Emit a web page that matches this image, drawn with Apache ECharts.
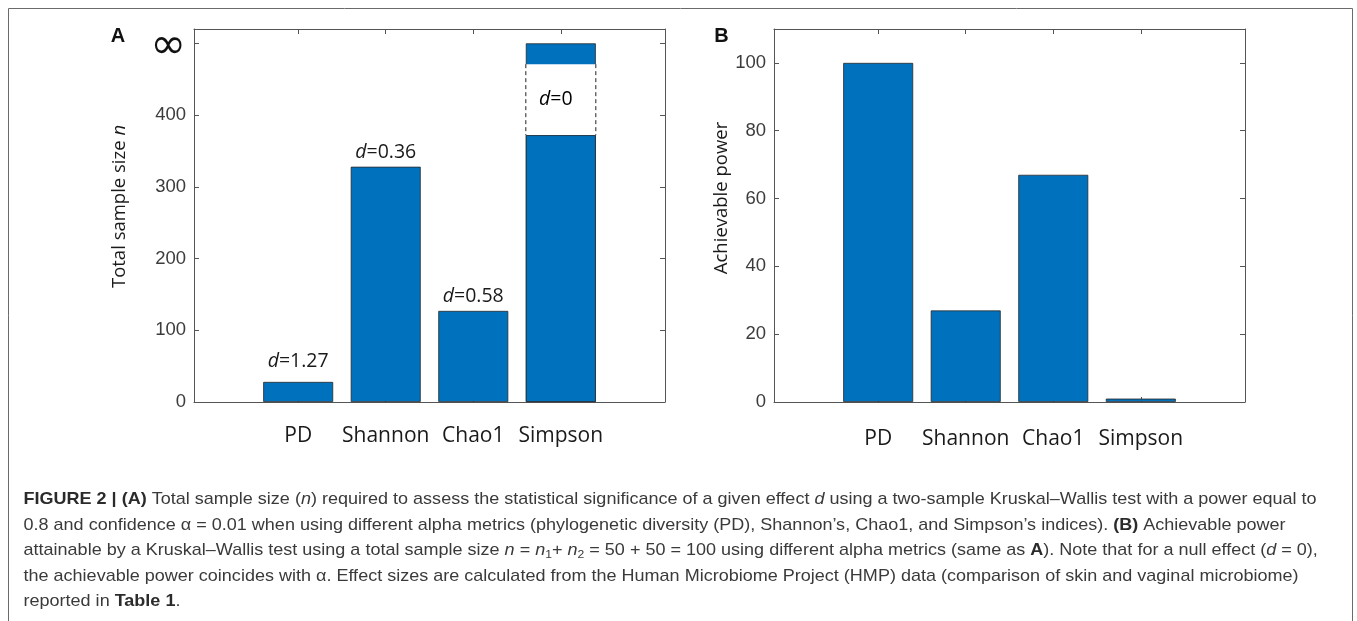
<!DOCTYPE html>
<html>
<head>
<meta charset="utf-8">
<title>Figure 2 – sample size and achievable power</title>
<script src="https://cdn.jsdelivr.net/npm/echarts@6/dist/echarts.min.js"></script>
<style>
  html, body { margin: 0; padding: 0; background: #fff; }
  #chart { width: 1357px; height: 621px; }
</style>
</head>
<body>
<div id="chart"></div>
<script>
// Alpha-diversity metrics compared in both panels
const categories = ['PD', 'Shannon', 'Chao1', 'Simpson'];
// Effect size d of each metric (skin vs vaginal microbiome)
const effectSize = [1.27, 0.36, 0.58, 0];
// Panel A: total sample size n needed (Simpson: n = infinity, d = 0)
const sampleSize = [28, 328, 127, Infinity];
// Where the infinite Simpson bar is broken, and the level shown as ∞
const simpsonBreak = [372, 471];
const infinityLevel = 500;
// Panel A tick values (the top one is printed as ∞)
const sampleTicks = [0, 100, 200, 300, 400, 500];
// Panel B: achievable power (%) with n = 50 + 50
const achievablePower = [100, 27, 67, 1];
const powerTicks = [0, 20, 40, 60, 80, 100];

const BLUE = '#0071bd';
const AXIS = '#555555';
const BAR_W = 70;
const TICK_FONT = 'Liberation Sans, Arial, sans-serif';
const CAL_FONT = 'Open Sans, Lato, sans-serif';
const catPos = categories.map((c, i) => i + 1);

const chart = echarts.init(document.getElementById('chart'), null, { renderer: 'canvas' });

function xAxisFor(gridIndex, position, showLabels, labelMargin) {
  return {
    type: 'value', gridIndex, position,
    min: -0.19, max: 5.19,
    axisLine: { show: true, onZero: false, lineStyle: { color: AXIS, width: 1 } },
    axisTick: { show: true, inside: true, length: 5, customValues: catPos, lineStyle: { color: AXIS } },
    axisLabel: {
      show: showLabels, customValues: catPos, margin: labelMargin,
      formatter: v => categories[Math.round(v) - 1] || '',
      fontFamily: CAL_FONT, fontSize: 21, color: '#1a1a1a'
    },
    splitLine: { show: false }
  };
}

function yAxisFor(gridIndex, position, showLabels, max, ticks, extra) {
  return Object.assign({
    type: 'value', gridIndex, position, min: 0, max,
    axisLine: { show: true, onZero: false, lineStyle: { color: AXIS, width: 1 } },
    axisTick: { show: true, inside: true, length: 5, customValues: ticks, lineStyle: { color: AXIS } },
    axisLabel: {
      show: showLabels, customValues: ticks, margin: 8,
      fontFamily: TICK_FONT, fontSize: 18.5, color: '#3c3c3c'
    },
    splitLine: { show: false }
  }, extra || {});
}

const dLabelRich = {
  i: { fontFamily: CAL_FONT, fontStyle: 'italic', fontSize: 19.5, color: '#1a1a1a' },
  t: { fontFamily: CAL_FONT, fontSize: 19.5, color: '#1a1a1a' }
};
const dText = idx => '{i|d}{t|=' + effectSize[idx] + '}';

// Panel A bars: finite n drawn in full; Simpson's bar runs up to ∞ with a break
const baseData = categories.map((c, i) => ({
  value: [i + 1, isFinite(sampleSize[i]) ? sampleSize[i] : simpsonBreak[0]],
  label: { show: isFinite(sampleSize[i]), distance: i === 0 ? 10 : 4 }
}));
const capData = categories.map((c, i) => [i + 1, isFinite(sampleSize[i]) ? null : infinityLevel]);
const breakData = categories
  .map((c, i) => [i + 1, simpsonBreak[0], simpsonBreak[1], i])
  .filter(d => !isFinite(sampleSize[d[3]]));
const powerData = categories.map((c, i) => [i + 1, achievablePower[i]]);

const barStyle = { color: BLUE, borderColor: '#2a2a2a', borderWidth: 0.8 };

// White break in the infinite bar, with dashed sides and its d label
function renderBreak(params, api) {
  const x = api.value(0);
  const lo = api.coord([x, api.value(1)]);
  const hi = api.coord([x, api.value(2)]);
  const left = lo[0] - BAR_W / 2;
  const right = lo[0] + BAR_W / 2;
  const dash = { stroke: '#222', lineWidth: 1, lineDash: [4, 3] };
  return {
    type: 'group',
    children: [
      { type: 'rect', shape: { x: left - 1.5, y: hi[1], width: BAR_W + 3, height: lo[1] - hi[1] },
        style: { fill: '#ffffff' } },
      { type: 'line', shape: { x1: left, y1: hi[1], x2: left, y2: lo[1] }, style: dash },
      { type: 'line', shape: { x1: right, y1: hi[1], x2: right, y2: lo[1] }, style: dash },
      { type: 'text', x: lo[0] - 5, y: (lo[1] + hi[1]) / 2,
        style: { text: dText(api.value(3)), rich: dLabelRich, align: 'center', verticalAlign: 'middle' } }
    ]
  };
}

// Caption lines
const capFont = 'Liberation Sans, Arial, sans-serif';
const capSize = 17;
const capRich = {
  b: { fontFamily: capFont, fontSize: capSize, fontWeight: 'bold', fill: '#2b2b2b' },
  i: { fontFamily: capFont, fontSize: capSize, fontStyle: 'italic', fill: '#3a3a3a' },
  s: { fontFamily: capFont, fontSize: 11.5, fill: '#3a3a3a', lineHeight: 12, verticalAlign: 'bottom' }
};
const captionLines = [
  '{b|FIGURE 2 | (A)} Total sample size ({i|n}) required to assess the statistical significance of a given effect {i|d} using a two-sample Kruskal–Wallis test with a power equal to',
  '0.8 and confidence α = 0.01 when using different alpha metrics (phylogenetic diversity (PD), Shannon’s, Chao1, and Simpson’s indices). {b|(B)} Achievable power',
  'attainable by a Kruskal–Wallis test using a total sample size {i|n} = {i|n}{s|1}+ {i|n}{s|2} = 50 + 50 = 100 using different alpha metrics (same as {b|A}). Note that for a null effect ({i|d} = 0),',
  'the achievable power coincides with α. Effect sizes are calculated from the Human Microbiome Project (HMP) data (comparison of skin and vaginal microbiome)',
  'reported in {b|Table 1}.'
];
const captionY = [499, 525, 550.5, 576, 601.5];

const graphics = [
  { type: 'rect', shape: { x: 8.5, y: 8.5, width: 1344, height: 700 },
    style: { fill: 'none', stroke: '#6a6a6a', lineWidth: 1 }, silent: true },
  { type: 'text', x: 118, y: 36, style: { text: 'A', font: 'bold 20px Liberation Sans, Arial, sans-serif', fill: '#111', align: 'center', verticalAlign: 'middle' } },
  { type: 'text', x: 721.5, y: 36, style: { text: 'B', font: 'bold 20px Liberation Sans, Arial, sans-serif', fill: '#111', align: 'center', verticalAlign: 'middle' } }
].concat(captionLines.map((t, k) => ({
  type: 'text', x: 25, y: captionY[k], scaleX: 1.06, originX: 25, originY: captionY[k],
  style: { text: t, rich: capRich, fontFamily: capFont, fontSize: capSize, fill: '#3a3a3a', verticalAlign: 'middle', align: 'left', lineHeight: 20 }
})));

const option = {
  animation: false,
  backgroundColor: '#ffffff',
  grid: [
    { left: 194, top: 29, width: 471, height: 373 },
    { left: 774, top: 29, width: 471, height: 373 }
  ],
  xAxis: [
    xAxisFor(0, 'bottom', true, 24),
    xAxisFor(0, 'top', false, 8),
    xAxisFor(1, 'bottom', true, 27),
    xAxisFor(1, 'top', false, 8)
  ],
  yAxis: [
    yAxisFor(0, 'left', true, 520, sampleTicks, {
      name: 'Total sample size {i|n}', nameLocation: 'middle', nameGap: 65,
      nameTextStyle: {
        fontFamily: CAL_FONT, fontSize: 18.5, color: '#1a1a1a', padding: [0, 0, 0, 18],
        rich: { i: { fontFamily: CAL_FONT, fontSize: 18.5, fontStyle: 'italic', color: '#1a1a1a' } }
      }
    }),
    yAxisFor(0, 'right', false, 520, sampleTicks),
    yAxisFor(1, 'left', true, 110, powerTicks, {
      name: 'Achievable power', nameLocation: 'middle', nameGap: 42,
      nameTextStyle: { fontFamily: CAL_FONT, fontSize: 18.5, color: '#1a1a1a', padding: [0, 0, 0, 35] }
    }),
    yAxisFor(1, 'right', false, 110, powerTicks)
  ],
  series: [
    {
      type: 'bar', name: 'n (to ∞)', xAxisIndex: 0, yAxisIndex: 0, z: 1,
      barWidth: BAR_W, barGap: '-100%', data: capData, itemStyle: barStyle
    },
    {
      type: 'custom', name: 'break', xAxisIndex: 0, yAxisIndex: 0, z: 2,
      data: breakData, renderItem: renderBreak
    },
    {
      type: 'bar', name: 'n', xAxisIndex: 0, yAxisIndex: 0, z: 3,
      barWidth: BAR_W, barGap: '-100%', data: baseData, itemStyle: barStyle,
      label: { show: true, position: 'top', formatter: p => dText(Math.round(p.value[0]) - 1), rich: dLabelRich }
    },
    {
      type: 'bar', name: 'power', xAxisIndex: 2, yAxisIndex: 2, z: 3,
      barWidth: BAR_W, data: powerData, itemStyle: barStyle
    }
  ],
  graphic: graphics
};

// Print the top tick of panel A as ∞
option.yAxis[0].axisLabel.formatter = v => (v === infinityLevel ? '{inf|∞}' : String(v));
option.yAxis[0].axisLabel.rich = { inf: { fontFamily: 'DejaVu Sans, sans-serif', fontSize: 43, color: '#111', padding: [6, 0, 0, 0] } };

chart.setOption(option);
</script>
</body>
</html>
